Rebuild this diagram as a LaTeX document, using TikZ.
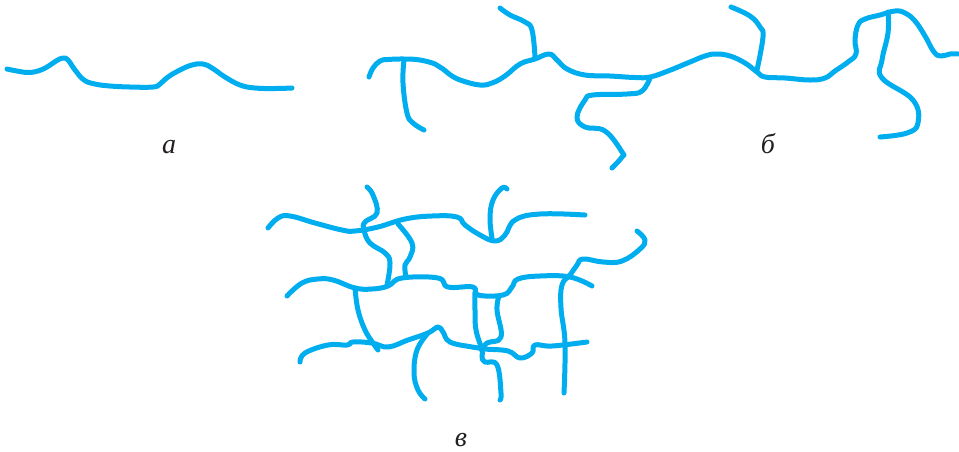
\documentclass[tikz,border=0pt]{standalone}
\usepackage{fontspec}
\setmainfont{Liberation Serif}
\definecolor{crackblue}{HTML}{00AEEF}
\definecolor{labelgray}{HTML}{231F20}
\tikzset{
  crack/.style={draw=crackblue,line width=5pt,line cap=round,line join=round},
  caption/.style={text=labelgray,font=\fontsize{28}{30}\selectfont\itshape,inner sep=0pt,anchor=base},
}
\begin{document}
\begin{tikzpicture}[x=1pt,y=-1pt]
  \useasboundingbox (0,0) rectangle (959,451);
  % single line
  \draw[crack] plot[smooth,tension=0.7] coordinates {(7,69) (17,71) (28,72.5) (38,71) (47,67) (56,61) (63,58) (68,60) (75,70) (84,80) (95,84) (110,86) (130,87) (153,87) (160,84) (168,77) (180,70) (192,65) (203,64) (212,68) (225,77) (240,85) (255,88) (275,88.5) (292,88)};
  % line with side branches
  \draw[crack] plot[smooth,tension=0.7] coordinates {(369,77) (373,68) (380,61) (388,59.5) (405,59) (420,60) (435,64) (443,69) (452,76) (463,81) (480,85) (492,83) (505,76) (520,64) (535,59) (549,54) (557,60) (567,69) (585,75) (610,76) (635,77.5) (650,77) (668,71) (690,62) (705,56) (716,54) (730,56) (745,63) (757,72) (765,77) (785,78) (810,80) (825,78) (835,71) (848,62) (856,54) (855,40) (858,25) (865,19) (880,15) (895,11) (905,13) (915,21) (925,36) (934,52) (941,56) (950,54) (958,54)};
  \draw[crack] plot[smooth,tension=0.7] coordinates {(404,60) (403,83) (407,113) (413,123) (424,130)};
  \draw[crack] plot[smooth,tension=0.7] coordinates {(500,8) (510,15) (525,22) (532,30) (535,57)};
  \draw[crack] plot[smooth,tension=0.7] coordinates {(731,7) (750,16) (760,27) (763,37) (757,70)};
  \draw[crack] plot[smooth,tension=0.7] coordinates {(650,78) (642,91) (627,94) (593,95) (585,100) (577,117) (585,127) (605,131) (622,152) (622,157) (612,168)};
  \draw[crack] plot[smooth,tension=0.7] coordinates {(888,12) (888,33) (882,60) (882,78) (913,100) (918,123) (907,133) (880,137)};
  % network, upper row
  \draw[crack] plot[smooth,tension=0.7] coordinates {(268,228) (278,218) (290,216) (315,223) (342,230) (355,231) (378,227) (405,219) (432,216) (457,217) (465,225) (480,235) (495,241) (505,235) (515,220) (540,214) (585,215)};
  \draw[crack] plot[smooth,tension=0.7] coordinates {(367,187) (373,195) (377,213) (365,222) (364,230) (370,243) (385,253) (390,263) (387,285)};
  \draw[crack] plot[smooth,tension=0.7] coordinates {(398,224) (412,243) (410,257) (405,265) (406,277)};
  \draw[crack] plot[smooth,tension=0.7] coordinates {(507,189) (502,188) (493,200) (490,218) (492,238)};
  % network, middle row
  \draw[crack] plot[smooth,tension=0.7] coordinates {(287,296) (302,283) (318,279) (333,280) (355,288) (372,289) (388,286) (402,278) (438,278) (448,287) (473,287) (478,295) (503,295) (512,287) (518,279) (540,276) (570,277) (592,286)};
  \draw[crack] plot[smooth,tension=0.7] coordinates {(637,231) (645,240) (640,249) (622,261) (603,262) (583,259) (577,265) (570,275) (562,285) (561,308) (565,343) (564,393)};
  \draw[crack] plot[smooth,tension=0.7] coordinates {(355,288) (358,310) (365,330) (373,343) (378,350)};
  \draw[crack] plot[smooth,tension=0.7] coordinates {(475,292) (475,310) (476,330) (482,350) (482,357) (485,362) (497,365) (501,393) (500,400)};
  \draw[crack] plot[smooth,tension=0.7] coordinates {(499,296) (497,310) (501,337) (487,343) (482,350)};
  % network, lower row
  \draw[crack] plot[smooth,tension=0.7] coordinates {(300,362) (305,353) (328,345) (347,345) (353,342) (372,343) (388,347) (408,340) (428,333) (438,327) (443,332) (450,342) (472,347) (485,349) (508,351) (520,358) (532,353) (535,345) (552,346) (587,342)};
  \draw[crack] plot[smooth,tension=0.7] coordinates {(428,333) (417,350) (414,373) (418,390) (425,399)};
  % captions
  \node[caption] (capa) at (169,153) {а};
  \node[caption] (capb) at (768,153) {б};
  \node[caption] (capv) at (461,446) {в};
\end{tikzpicture}
\end{document}
